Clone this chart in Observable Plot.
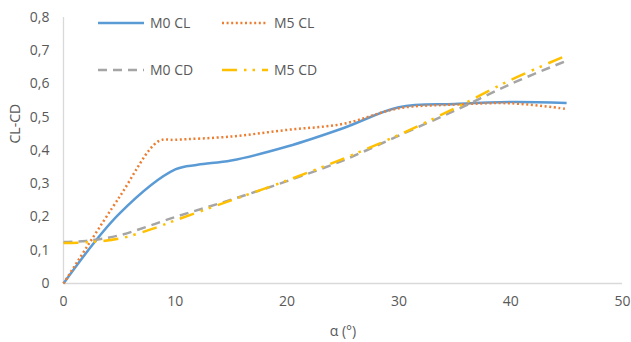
<!DOCTYPE html>
<html><head><meta charset="utf-8">
<script src="https://cdn.jsdelivr.net/npm/d3@7"></script>
<script src="https://cdn.jsdelivr.net/npm/@observablehq/plot@0.6"></script>
<style>
body{margin:0;background:#fff;}
#chart{position:relative;width:631px;height:342px;font-family:"Open Sans",sans-serif;}
#chart svg{position:absolute;left:0;top:0;}
</style>
</head><body><div id="chart"></div>
<script>
// Series names
const seriesNames = ["M0 CL", "M5 CL", "M0 CD", "M5 CD"];
// Angle of attack values (°) and coefficients
const m0clAlpha = [0, 5, 10, 12, 15, 20, 25, 30, 35, 40, 45];
const m0clValues = [0, 0.21, 0.343, 0.357, 0.37, 0.412, 0.467, 0.53, 0.54, 0.546, 0.543];
const m5clAlpha = [0, 5, 8.5, 10, 15, 20, 25, 30, 35, 40, 45];
const m5clValues = [0, 0.26, 0.428, 0.432, 0.442, 0.462, 0.48, 0.527, 0.538, 0.542, 0.525];
const m0cdAlpha = [0, 2, 5, 10, 15, 20, 25, 30, 35, 40, 45];
const m0cdValues = [0.125, 0.128, 0.145, 0.2, 0.252, 0.308, 0.37, 0.445, 0.52, 0.6, 0.67];
const m5cdAlpha = [0, 2, 5, 8, 10, 15, 20, 25, 30, 35, 40, 45];
const m5cdValues = [0.122, 0.124, 0.135, 0.165, 0.19, 0.25, 0.31, 0.375, 0.447, 0.527, 0.612, 0.686];
// Tick values and titles
const xTicks = [0, 10, 20, 30, 40, 50];
const yTicks = [0, 0.1, 0.2, 0.3, 0.4, 0.5, 0.6, 0.7, 0.8];
const xTitle = "α (°)";
const yTitle = "CL-CD";

const seriesStyle = [
  {color: "#5B9BD5", dash: null},
  {color: "#ED7D31", dash: "2,2.6"},
  {color: "#A5A5A5", dash: "9,6"},
  {color: "#FFC000", dash: "15,7,2.5,6,2.5,7"}
];
const seriesData = [
  [m0clAlpha, m0clValues],
  [m5clAlpha, m5clValues],
  [m0cdAlpha, m0cdValues],
  [m5cdAlpha, m5cdValues]
].map(([xs, ys], i) => xs.map((x, j) => ({x, y: ys[j], s: seriesNames[i]})));

const fmt = d => d === 0 ? "0" : d.toFixed(1).replace(".", ",");
const textColor = "#595959";
const axisColor = "#D9D9D9";

const marks = [
  Plot.ruleX([0], {y1: 0, y2: 0.8, stroke: axisColor, strokeWidth: 1.3}),
  Plot.ruleY([0], {x1: 0, x2: 50, stroke: axisColor, strokeWidth: 1.3}),
  Plot.axisY({ticks: yTicks, tickFormat: fmt, tickSize: 0, tickPadding: 14, fill: textColor, fontSize: 14, label: null}),
  Plot.axisX({ticks: xTicks, tickSize: 0, tickPadding: 13, fill: textColor, fontSize: 14,
    label: xTitle, labelAnchor: "center", labelArrow: "none", labelOffset: 52}),
  Plot.text([yTitle], {frameAnchor: "left", dx: -48, dy: -7, rotate: -90, fill: textColor, fontSize: 14})
];
seriesData.forEach((data, i) => {
  marks.push(Plot.line(data, {x: "x", y: "y", curve: "catmull-rom", stroke: seriesStyle[i].color,
    strokeWidth: 2.5, strokeDasharray: seriesStyle[i].dash, strokeLinecap: "butt"}));
});

const chart = Plot.plot({
  width: 631, height: 342,
  marginLeft: 63, marginRight: 9, marginTop: 17, marginBottom: 59,
  x: {domain: [0, 50]},
  y: {domain: [0, 0.8]},
  style: {fontFamily: "'Open Sans', sans-serif", fontSize: "14px", color: textColor, background: "transparent"},
  marks
});
document.getElementById("chart").appendChild(chart);

// Legend overlay (inside the plot area, top-left)
const legendPos = [[98, 23], [222, 23], [98, 70], [222, 70]];
const leg = d3.select("#chart").append("svg").attr("width", 631).attr("height", 342)
  .style("pointer-events", "none");
seriesNames.forEach((name, i) => {
  const [lx, ly] = legendPos[i];
  leg.append("line").attr("x1", lx).attr("x2", lx + 46).attr("y1", ly).attr("y2", ly)
    .attr("stroke", seriesStyle[i].color).attr("stroke-width", 2.5)
    .attr("stroke-dasharray", seriesStyle[i].dash);
  leg.append("text").attr("x", lx + 52).attr("y", ly + 5).attr("fill", textColor)
    .attr("font-family", "'Open Sans', sans-serif").attr("font-size", 14).text(name);
});
</script>
</body></html>
